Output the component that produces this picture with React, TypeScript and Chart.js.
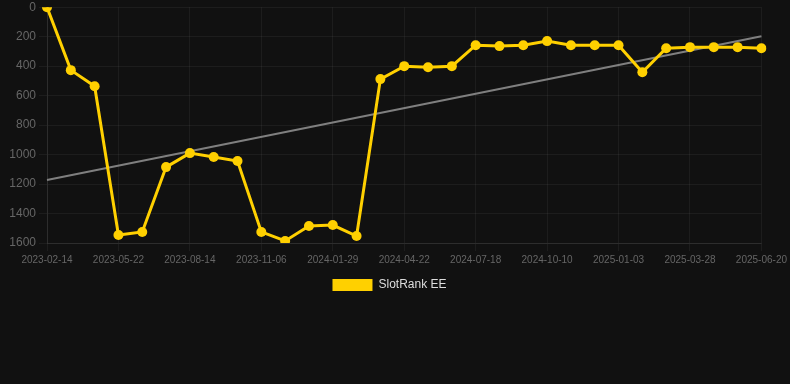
import React, { useEffect, useRef } from "react";
import { Chart, registerables } from "chart.js";

Chart.register(...registerables);

const labels: string[] = [
  "2023-02-14", "2023-03-18", "2023-04-20", "2023-05-22", "2023-06-19", "2023-07-17",
  "2023-08-14", "2023-09-11", "2023-10-09", "2023-11-06", "2023-12-04", "2024-01-01",
  "2024-01-29", "2024-02-26", "2024-03-25", "2024-04-22", "2024-05-20", "2024-06-19",
  "2024-07-18", "2024-08-15", "2024-09-12", "2024-10-10", "2024-11-07", "2024-12-06",
  "2025-01-03", "2025-01-31", "2025-02-28", "2025-03-28", "2025-04-25", "2025-05-23",
  "2025-06-20",
];

const rankValues: number[] = [
  0, 427, 536, 1546, 1525, 1085, 990, 1017, 1044, 1525, 1586, 1485, 1478, 1553, 488, 400,
  407, 400, 258, 264, 258, 230, 258, 258, 258, 441, 278, 271, 271, 271, 278,
];

const trendStart = 1173;
const trendEnd = 197;
const trendValues: (number | null)[] = labels.map((_, i) =>
  i === 0 ? trendStart : i === labels.length - 1 ? trendEnd : null
);

const yTicks = { min: 0, max: 1600, step: 200 };

export default function App() {
  const ref = useRef<HTMLCanvasElement | null>(null);
  useEffect(() => {
    document.body.style.margin = "0";
    document.body.style.background = "#111111";
    const ctx = ref.current!;
    const chart = new Chart(ctx, {
      type: "line",
      data: {
        labels,
        datasets: [
          {
            label: "SlotRank EE",
            data: rankValues,
            borderColor: "#FFD000",
            backgroundColor: "#FFD000",
            borderWidth: 3,
            pointRadius: 5,
            pointHoverRadius: 5,
            pointBackgroundColor: "#FFD000",
            pointBorderColor: "#FFD000",
            pointBorderWidth: 0,
            tension: 0,
          },
          {
            label: "Trend",
            data: trendValues,
            borderColor: "rgba(140,140,140,0.9)",
            backgroundColor: "rgba(140,140,140,0.9)",
            borderWidth: 2,
            pointRadius: 0,
            spanGaps: true,
            tension: 0,
          },
        ],
      },
      options: {
        animation: false,
        responsive: false,
        maintainAspectRatio: false,
        layout: { padding: { left: 0, right: 11, top: 0, bottom: 0 } },
        plugins: {
          legend: {
            position: "bottom",
            labels: {
              boxWidth: 40,
              boxHeight: 12,
              color: "#dddddd",
              font: { family: "'Liberation Sans', Arial, sans-serif", size: 12 },
              generateLabels: (c) =>
                Chart.defaults.plugins.legend.labels
                  .generateLabels(c)
                  .filter((it) => it.text !== "Trend")
                  .map((it) => ({ ...it, lineWidth: 0, strokeStyle: "rgba(0,0,0,0)" })),
            },
          },
          tooltip: { enabled: false },
        },
        scales: {
          x: {
            grid: { color: "rgba(255,255,255,0.05)", tickLength: 8 },
            border: { color: "rgba(255,255,255,0.08)" },
            ticks: {
              color: "#666666",
              font: { family: "'Liberation Sans', Arial, sans-serif", size: 10 },
              maxRotation: 0,
              autoSkip: true,
              callback: function (val, idx) {
                return idx % 3 === 0 ? labels[idx] : null;
              },
            },
          },
          y: {
            reverse: true,
            min: yTicks.min,
            max: yTicks.max,
            afterFit: (scale) => {
              scale.width = 47;
            },
            grid: { color: "rgba(255,255,255,0.05)", tickLength: 8 },
            border: { color: "rgba(255,255,255,0.08)" },
            ticks: {
              stepSize: yTicks.step,
              color: "#666666",
              font: { family: "'Liberation Sans', Arial, sans-serif", size: 12 },
              callback: (v) => String(v),
            },
          },
        },
      },
    });
    return () => chart.destroy();
  }, []);
  return (
    <div style={{ position: "fixed", left: 0, top: 0, width: 790, height: 384, background: "#111111", overflow: "hidden" }}>
      <canvas ref={ref} width={790} height={304} style={{ display: "block", marginTop: -3 }} />
    </div>
  );
}
